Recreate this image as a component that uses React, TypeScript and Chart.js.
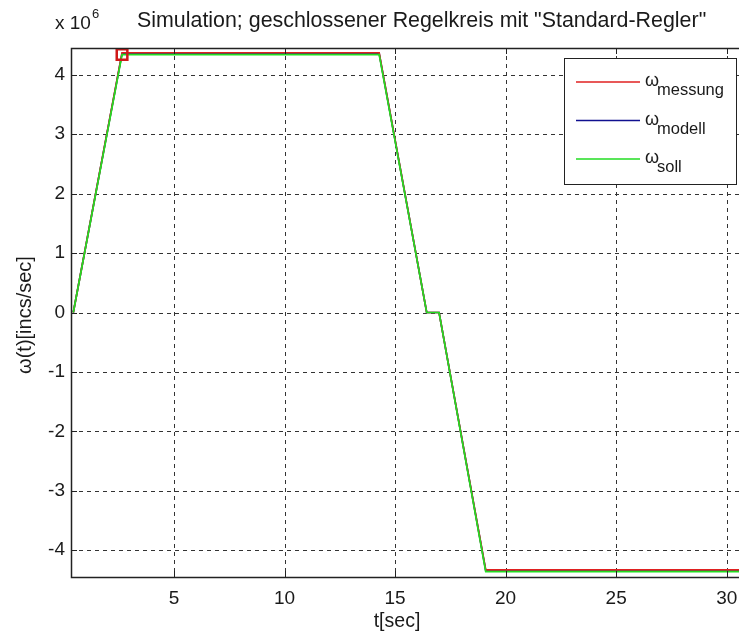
import React, { useEffect, useRef } from "react";
import { Chart, registerables } from "chart.js";
Chart.register(...registerables);

// time axis [sec] and values [x 10^6 incs/sec]
const sollT = [0.445, 2.65, 14.28, 16.43, 16.99, 19.1, 31.5];
const sollV = [0, 4.34, 4.34, 0, 0, -4.36, -4.36];
const messT = [0.445, 2.65, 14.28, 16.43, 16.99, 19.1, 31.5];
const messV = [0, 4.37, 4.37, 0, 0, -4.33, -4.33];
const modT = [0.445, 2.65, 14.28, 16.43, 16.99, 19.1, 31.5];
const modV = [0, 4.36, 4.36, 0, 0, -4.34, -4.34];
const markT = [2.65];
const markV = [4.34];

const xTicks = [5, 10, 15, 20, 25, 30];
const yTicks = [-4, -3, -2, -1, 0, 1, 2, 3, 4];
const X_MIN = 0.341;
const X_MAX = 31.506;
const Y_MIN = -4.45;
const Y_MAX = 4.45;

const legendLabels = ["messung", "modell", "soll"];
const legendColors = ["#e02020", "#101090", "#22dd22"];

const titleText = 'Simulation; geschlossener Regelkreis mit "Standard-Regler"';
const xTitle = "t[sec]";
const yTitle = "ω(t)[incs/sec]";

const FONT = '"Liberation Sans", Arial, sans-serif';

function pts(t: number[], v: number[]) {
  return t.map((tt, i) => ({ x: tt, y: v[i] }));
}

export default function App() {
  const ref = useRef<HTMLCanvasElement>(null);
  useEffect(() => {
    const canvas = ref.current!;
    const deco = {
      id: "deco",
      beforeDatasetsDraw(chart: any) {
        const { ctx, chartArea: a, scales } = chart;
        const x = scales.x, y = scales.y;
        ctx.save();
        ctx.strokeStyle = "#333";
        ctx.lineWidth = 1;
        ctx.setLineDash([4, 4]);
        ctx.beginPath();
        for (const v of xTicks) {
          const px = Math.round(x.getPixelForValue(v)) + 0.5;
          ctx.moveTo(px, a.top);
          ctx.lineTo(px, a.bottom);
        }
        for (const v of yTicks) {
          const py = Math.round(y.getPixelForValue(v)) + 0.5;
          ctx.moveTo(a.left, py);
          ctx.lineTo(a.right, py);
        }
        ctx.stroke();
        ctx.restore();
      },
      afterDraw(chart: any) {
        const { ctx, chartArea: a, scales } = chart;
        const x = scales.x, y = scales.y;
        ctx.save();
        // frame
        ctx.strokeStyle = "#222";
        ctx.lineWidth = 1.5;
        ctx.beginPath();
        ctx.moveTo(a.right, Math.round(a.top) + 0.5);
        ctx.lineTo(Math.round(a.left) + 0.5, Math.round(a.top) + 0.5);
        ctx.lineTo(Math.round(a.left) + 0.5, Math.round(a.bottom) + 0.5);
        ctx.lineTo(a.right, Math.round(a.bottom) + 0.5);
        ctx.stroke();
        // inward ticks
        ctx.lineWidth = 1;
        ctx.beginPath();
        const TL = 6;
        for (const v of xTicks) {
          const px = Math.round(x.getPixelForValue(v)) + 0.5;
          ctx.moveTo(px, a.top);
          ctx.lineTo(px, a.top + TL);
          ctx.moveTo(px, a.bottom);
          ctx.lineTo(px, a.bottom - TL);
        }
        for (const v of yTicks) {
          const py = Math.round(y.getPixelForValue(v)) + 0.5;
          ctx.moveTo(a.left, py);
          ctx.lineTo(a.left + TL, py);
        }
        ctx.stroke();

        // title + exponent
        ctx.fillStyle = "#1a1a1a";
        ctx.textBaseline = "alphabetic";
        ctx.textAlign = "left";
        ctx.font = `21.4px ${FONT}`;
        ctx.fillText(titleText, 137, 27);
        ctx.font = `19px ${FONT}`;
        ctx.fillText("x 10", 55, 29);
        ctx.font = `13px ${FONT}`;
        ctx.fillText("6", 92, 18);

        // axis titles
        ctx.font = `19.5px ${FONT}`;
        ctx.textAlign = "center";
        ctx.fillText(xTitle, 397, 627);
        ctx.save();
        ctx.font = `20px ${FONT}`;
        ctx.translate(31, 315);
        ctx.rotate(-Math.PI / 2);
        ctx.fillText(yTitle, 0, 0);
        ctx.restore();

        // legend
        const bx = 564.5, by = 58.5, bw = 172, bh = 126;
        ctx.fillStyle = "#fff";
        ctx.fillRect(bx, by, bw, bh);
        ctx.strokeStyle = "#222";
        ctx.lineWidth = 1;
        ctx.strokeRect(bx, by, bw, bh);
        const rows = [82, 120.5, 159];
        legendLabels.forEach((lab, i) => {
          const ry = rows[i];
          ctx.strokeStyle = legendColors[i];
          ctx.lineWidth = 1.5;
          ctx.beginPath();
          ctx.moveTo(576, ry);
          ctx.lineTo(640, ry);
          ctx.stroke();
          ctx.fillStyle = "#1a1a1a";
          ctx.textAlign = "left";
          ctx.font = `18px ${FONT}`;
          ctx.fillText("ω", 645, ry + 4);
          ctx.font = `16.5px ${FONT}`;
          ctx.fillText(lab, 657, ry + 13);
        });
        ctx.restore();
      },
    };

    const chart = new Chart(canvas, {
      type: "line",
      data: {
        datasets: [
          {
            label: "ω_messung",
            data: pts(messT, messV),
            borderColor: legendColors[0],
            borderWidth: 1.7,
            pointRadius: 0,
            order: 1,
          },
          {
            label: "ω_modell",
            data: pts(modT, modV),
            borderColor: legendColors[1],
            borderWidth: 1.7,
            pointRadius: 0,
            order: 2,
          },
          {
            label: "ω_soll",
            data: pts(sollT, sollV),
            borderColor: legendColors[2],
            borderWidth: 1.7,
            pointRadius: 0,
            order: 0,
          },
          {
            label: "marker",
            type: "scatter",
            data: pts(markT, markV),
            pointStyle: "rect",
            pointRadius: 7.5,
            pointBorderColor: "#d01818",
            pointBorderWidth: 2.5,
            pointBackgroundColor: "rgba(0,0,0,0)",
            showLine: false,
            order: -1,
          } as any,
        ],
      },
      options: {
        animation: false,
        responsive: false,
        maintainAspectRatio: false,
        layout: { padding: { top: 48, left: 0, right: 0, bottom: 0 } },
        plugins: { legend: { display: false }, tooltip: { enabled: false }, title: { display: false } },
        elements: { line: { tension: 0 } },
        scales: {
          x: {
            type: "linear",
            min: X_MIN,
            max: X_MAX,
            grid: { display: false, drawTicks: false },
            border: { display: false },
            afterBuildTicks: (s: any) => {
              s.ticks = xTicks.map((v) => ({ value: v }));
            },
            afterFit: (s: any) => {
              s.height = 58;
            },
            ticks: {
              autoSkip: false,
              maxRotation: 0,
              padding: 10,
              color: "#1a1a1a",
              font: { family: FONT, size: 19 },
            },
          },
          y: {
            type: "linear",
            min: Y_MIN,
            max: Y_MAX,
            grid: { display: false, drawTicks: false },
            border: { display: false },
            afterBuildTicks: (s: any) => {
              s.ticks = yTicks.map((v) => ({ value: v }));
            },
            afterFit: (s: any) => {
              s.width = 71;
            },
            ticks: {
              autoSkip: false,
              padding: 6,
              color: "#1a1a1a",
              font: { family: FONT, size: 19 },
            },
          },
        },
      },
      plugins: [deco],
    } as any);
    return () => chart.destroy();
  }, []);
  return (
    <canvas
      ref={ref}
      width={770}
      height={635}
      style={{ position: "fixed", left: 0, top: 0, width: 770, height: 635, background: "#fff" }}
    />
  );
}
